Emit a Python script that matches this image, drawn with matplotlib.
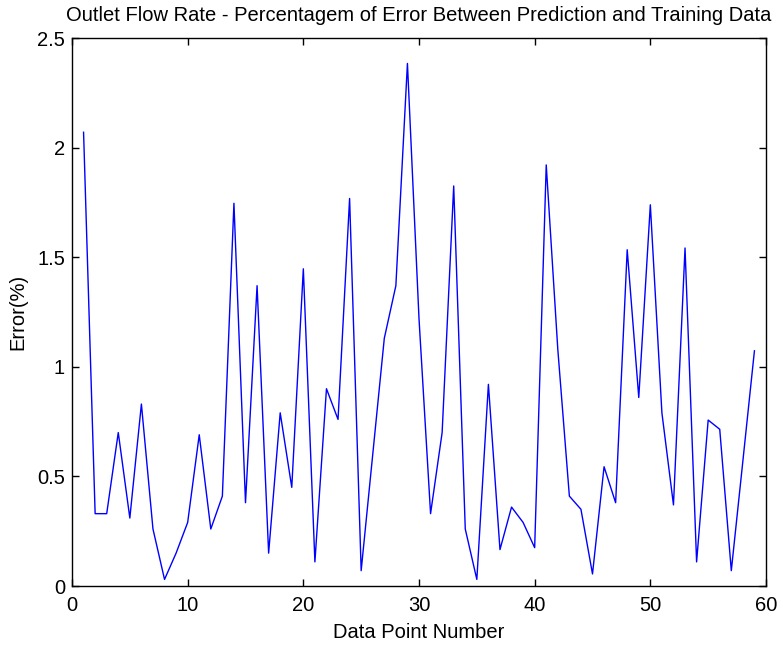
import matplotlib
matplotlib.use("Agg")
import matplotlib.pyplot as plt

plt.rcParams['font.family'] = ['Liberation Sans', 'DejaVu Sans']

point_number = list(range(1, 60))
error_pct = [2.07, 0.33, 0.33, 0.70, 0.31, 0.83, 0.26, 0.03, 0.15, 0.29,
             0.69, 0.26, 0.41, 1.746, 0.38, 1.37, 0.15, 0.79, 0.45, 1.447,
             0.11, 0.90, 0.76, 1.768, 0.07, 0.60, 1.13, 1.37, 2.384, 1.22,
             0.33, 0.70, 1.825, 0.26, 0.03, 0.92, 0.166, 0.36, 0.29, 0.175,
             1.921, 1.08, 0.41, 0.35, 0.055, 0.544, 0.38, 1.534, 0.86, 1.739,
             0.79, 0.37, 1.542, 0.11, 0.757, 0.715, 0.07, 0.57, 1.073]

title = "Outlet Flow Rate - Percentagem of Error Between Prediction and Training Data"
xlabel = "Data Point Number"
ylabel = "Error(%)"
xticks = [0, 10, 20, 30, 40, 50, 60]
yticks = [0, 0.5, 1, 1.5, 2, 2.5]
ytick_labels = ["0", "0.5", "1", "1.5", "2", "2.5"]

fig = plt.figure(figsize=(7.83, 6.48), dpi=100)
ax = fig.add_axes([72/783, 62/648, (766-72)/783, (586-38)/648])
ax.plot(point_number, error_pct, color='#0000ff', linewidth=1.0)
ax.set_xlim(0, 60)
ax.set_ylim(0, 2.5)
ax.set_xticks(xticks)
ax.set_yticks(yticks)
ax.set_yticklabels(ytick_labels)
ax.tick_params(direction='in', top=True, right=True, labelsize=14.5, length=5, width=1)
ax.tick_params(axis='x', pad=7)
ax.tick_params(axis='y', pad=5)
for s in ax.spines.values():
    s.set_linewidth(1.0)
ax.set_title(title, fontsize=14.5, pad=12)
ax.set_xlabel(xlabel, fontsize=14.5, labelpad=6)
ax.set_ylabel(ylabel, fontsize=14.5, labelpad=7)
fig.savefig("out.png", dpi=100)
